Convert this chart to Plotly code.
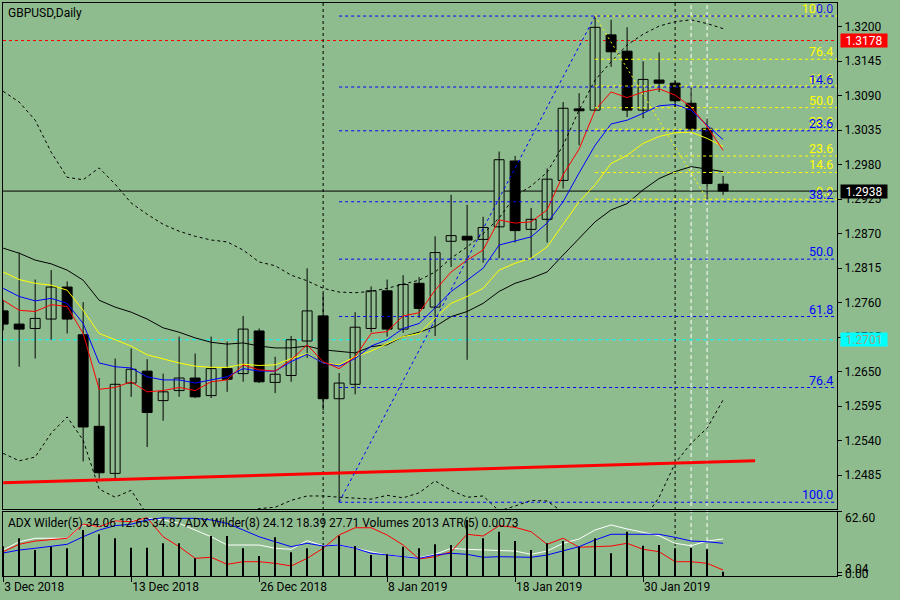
import numpy as np
import plotly.graph_objects as go

# ---- data ----
dates = ["2018-12-03", "2018-12-04", "2018-12-05", "2018-12-06", "2018-12-07",
         "2018-12-10", "2018-12-11", "2018-12-12", "2018-12-13", "2018-12-14",
         "2018-12-17", "2018-12-18", "2018-12-19", "2018-12-20", "2018-12-21",
         "2018-12-24", "2018-12-26", "2018-12-27", "2018-12-28", "2018-12-31",
         "2019-01-02", "2019-01-03", "2019-01-04", "2019-01-07", "2019-01-08",
         "2019-01-09", "2019-01-10", "2019-01-11", "2019-01-14", "2019-01-15",
         "2019-01-16", "2019-01-17", "2019-01-18", "2019-01-21", "2019-01-22",
         "2019-01-23", "2019-01-24", "2019-01-25", "2019-01-28", "2019-01-29",
         "2019-01-30", "2019-01-31", "2019-02-01", "2019-02-04", "2019-02-05",
         "2019-02-06"]

open_ = [1.2747, 1.2726, 1.2719, 1.2734, 1.2785, 1.2709, 1.2563, 1.2488, 1.2632, 1.2651,
         1.2604, 1.2620, 1.2640, 1.2612, 1.2655, 1.2647, 1.2715, 1.2633, 1.2644, 1.2699,
         1.2739, 1.2607, 1.2630, 1.2719, 1.2779, 1.2718, 1.2791, 1.2753, 1.2858, 1.2866,
         1.2861, 1.2881, 1.2986, 1.2877, 1.2893, 1.2955, 1.3069, 1.3067, 1.3187, 1.3161,
         1.3067, 1.3115, 1.3110, 1.3078, 1.3038, 1.2949]
high = [1.2764, 1.2840, 1.2797, 1.2812, 1.2794, 1.2761, 1.2640, 1.2671, 1.2687, 1.2670,
        1.2647, 1.2706, 1.2679, 1.2706, 1.2698, 1.2739, 1.2719, 1.2674, 1.2707, 1.2815,
        1.2775, 1.2648, 1.2745, 1.2786, 1.2797, 1.2804, 1.2801, 1.2866, 1.2932, 1.2916,
        1.2897, 1.3001, 1.2994, 1.2911, 1.2974, 1.3080, 1.3094, 1.3217, 1.3211, 1.3199,
        1.3145, 1.3159, 1.3115, 1.3103, 1.3054, 1.2962]
low = [1.2716, 1.2658, 1.2671, 1.2701, 1.2711, 1.2507, 1.2480, 1.2477, 1.2610, 1.2530,
       1.2572, 1.2610, 1.2608, 1.2608, 1.2618, 1.2634, 1.2632, 1.2616, 1.2634, 1.2672,
       1.2589, 1.2442, 1.2614, 1.2713, 1.2706, 1.2712, 1.2736, 1.2707, 1.2817, 1.2669,
       1.2824, 1.2831, 1.2856, 1.2831, 1.2856, 1.2942, 1.3011, 1.3066, 1.3136, 1.3056,
       1.3054, 1.3096, 1.3070, 1.3032, 1.2925, 1.2932]
close = [1.2726, 1.2718, 1.2735, 1.2785, 1.2734, 1.2562, 1.2489, 1.2630, 1.2654, 1.2585,
         1.2618, 1.2640, 1.2610, 1.2655, 1.2638, 1.2718, 1.2634, 1.2646, 1.2701, 1.2747,
         1.2607, 1.2632, 1.2721, 1.2779, 1.2718, 1.2789, 1.2751, 1.2840, 1.2867, 1.2860,
         1.2880, 1.2988, 1.2875, 1.2893, 1.2957, 1.3070, 1.3066, 1.3199, 1.3160, 1.3067,
         1.3116, 1.3110, 1.3082, 1.3037, 1.2950, 1.2938]

ma_red = [1.2764, 1.2748, 1.2746, 1.2757, 1.2754, 1.2711, 1.2622, 1.2625, 1.2634, 1.2618,
          1.2620, 1.2625, 1.2620, 1.2634, 1.2637, 1.2661, 1.2653, 1.2651, 1.2669, 1.2693,
          1.2666, 1.2655, 1.2674, 1.2711, 1.2714, 1.2739, 1.2744, 1.2780, 1.2809, 1.2828,
          1.2844, 1.2892, 1.2887, 1.2889, 1.2908, 1.2964, 1.3005, 1.3067, 1.3096, 1.3087,
          1.3096, 1.3101, 1.3091, 1.3072, 1.3041, 1.3003]
ma_blue = [1.2783, 1.2770, 1.2763, 1.2767, 1.2759, 1.2727, 1.2664, 1.2658, 1.2656, 1.2642,
           1.2637, 1.2637, 1.2632, 1.2637, 1.2642, 1.2655, 1.2651, 1.2651, 1.2666, 1.2678,
           1.2664, 1.2659, 1.2671, 1.2691, 1.2701, 1.2719, 1.2727, 1.2752, 1.2778, 1.2796,
           1.2815, 1.2852, 1.2858, 1.2865, 1.2887, 1.2921, 1.2967, 1.3011, 1.3045, 1.3051,
           1.3062, 1.3074, 1.3076, 1.3067, 1.3043, 1.3020]
ma_yellow = [1.2809, 1.2797, 1.2791, 1.2788, 1.2780, 1.2748, 1.2711, 1.2701, 1.2691, 1.2677,
             1.2670, 1.2664, 1.2659, 1.2657, 1.2657, 1.2662, 1.2660, 1.2661, 1.2671, 1.2679,
             1.2664, 1.2661, 1.2674, 1.2683, 1.2695, 1.2706, 1.2711, 1.2736, 1.2759, 1.2770,
             1.2783, 1.2812, 1.2823, 1.2831, 1.2849, 1.2884, 1.2921, 1.2948, 1.2982, 1.2995,
             1.3014, 1.3025, 1.3031, 1.3032, 1.3022, 1.3009]
ma_black = [1.2847, 1.2839, 1.2828, 1.2822, 1.2812, 1.2796, 1.2764, 1.2753, 1.2745, 1.2734,
            1.2720, 1.2713, 1.2704, 1.2697, 1.2694, 1.2696, 1.2691, 1.2688, 1.2688, 1.2691,
            1.2685, 1.2682, 1.2680, 1.2690, 1.2693, 1.2706, 1.2713, 1.2722, 1.2738, 1.2746,
            1.2759, 1.2778, 1.2791, 1.2799, 1.2809, 1.2836, 1.2863, 1.2889, 1.2908, 1.2918,
            1.2940, 1.2958, 1.2969, 1.2977, 1.2973, 1.2969]
bb_upper = [1.3097, 1.3080, 1.3051, 1.3000, 1.2960, 1.2956, 1.2975, 1.2949, 1.2919, 1.2901,
            1.2885, 1.2874, 1.2866, 1.2860, 1.2857, 1.2844, 1.2825, 1.2819, 1.2804, 1.2795,
            1.2783, 1.2777, 1.2776, 1.2778, 1.2783, 1.2790, 1.2796, 1.2809, 1.2831, 1.2849,
            1.2870, 1.2895, 1.2930, 1.2946, 1.2968, 1.3011, 1.3067, 1.3115, 1.3144, 1.3171,
            1.3188, 1.3201, 1.3208, 1.3211, 1.3205, 1.3197]
bb_lower = [1.2520, 1.2508, 1.2514, 1.2552, 1.2578, 1.2541, 1.2463, 1.2450, 1.2461, 1.2422,
            1.2406, 1.2398, 1.2398, 1.2401, 1.2411, 1.2422, 1.2432, 1.2434, 1.2445, 1.2452,
            1.2452, 1.2450, 1.2449, 1.2447, 1.2453, 1.2449, 1.2457, 1.2476, 1.2461, 1.2450,
            1.2452, 1.2428, 1.2436, 1.2445, 1.2444, 1.2426, 1.2413, 1.2400, 1.2394, 1.2397,
            1.2413, 1.2450, 1.2504, 1.2536, 1.2560, 1.2605]

volume = [14000, 17680, 12190, 13740, 12990, 21570, 19560, 17680, 13270, 13270,
          15340, 15340, 8300, 18760, 18760, 12990, 9380, 18150, 11120, 12990,
          14070, 18900, 14070, 9850, 10180, 13740, 12990, 14870, 14540, 26260,
          17680, 20780, 16420, 12190, 15340, 16420, 13740, 17680, 10650, 20780,
          14210, 14540, 12990, 13270, 12520, 2013]
adx_blue = [22.5, 25.4, 27.1, 28.7, 31.0, 38.4, 45.0, 49.2, 50.6, 54.8,
            57.0, 56.4, 56.4, 54.8, 51.5, 45.0, 38.4, 33.5, 28.7, 32.0,
            29.3, 30.3, 27.1, 22.2, 20.5, 18.9, 17.3, 20.5, 22.2, 21.2,
            18.3, 18.9, 18.9, 18.3, 20.5, 24.4, 28.7, 35.2, 40.8, 40.8,
            40.8, 40.8, 37.8, 34.2, 33.5, 32.0]
adx_white = [25.4, 33.5, 36.9, 36.9, 36.9, 49.9, 48.2, 53.1, 53.8, 56.4,
             54.8, 51.5, 45.3, 38.4, 30.3, 30.3, 30.3, 27.1, 26.1, 34.5,
             29.6, 30.3, 27.1, 23.8, 20.5, 18.9, 17.9, 21.2, 27.1, 26.1,
             25.4, 24.4, 24.4, 21.2, 24.4, 32.0, 36.2, 45.0, 49.9, 46.0,
             42.7, 39.4, 32.0, 29.6, 34.2, 36.2]
adx_red = [23.8, 31.0, 34.2, 35.2, 36.9, 50.6, 48.2, 53.8, 53.1, 57.0,
           38.4, 28.7, 17.3, 18.3, 11.4, 14.0, 14.0, 12.4, 9.8, 17.3,
           27.1, 40.1, 47.2, 47.2, 40.1, 30.3, 16.6, 18.9, 23.8, 40.8,
           39.1, 49.2, 47.6, 43.3, 31.0, 36.9, 28.1, 28.7, 29.3, 32.0,
           26.1, 23.8, 14.0, 14.0, 12.4, 5.9]

price_ticks = [1.3200, 1.3145, 1.3090, 1.3035, 1.2980, 1.2925, 1.2870,
               1.2815, 1.2760, 1.2705, 1.2650, 1.2595, 1.2540, 1.2485]
date_ticks = ["2018-12-03", "2018-12-13", "2018-12-26", "2019-01-08", "2019-01-18", "2019-01-30"]
fib_levels = [0.0, 14.6, 23.6, 38.2, 50.0, 61.8, 76.4, 100.0]
alert_level = 1.3178
cyan_level = 1.2701
trend_x = ["2018-12-03", "2019-02-08"]
trend_y = [1.2473, 1.2508]
marked_days = ["2019-02-04", "2019-02-05"]
indicator_text = ("ADX Wilder(5) 34.06 12.65 34.87 ADX Wilder(8) 24.12 18.39 27.71 "
                  "Volumes 2013 ATR(5) 0.0073")

BG = "#8fbc8f"
FONT = "Roboto"
n = len(close)
idx = list(range(n))
pos = {d: i for i, d in enumerate(dates)}


def date_pos(d):
    # bars past the last one (trend line end) are counted in trading days
    if d in pos:
        return pos[d]
    return n - 1 + int(np.busday_count(dates[-1], d))


fig = go.Figure()

# candles
wx, wy = [], []
for i in idx:
    wx += [i, i, None]
    wy += [low[i], high[i], None]
fig.add_trace(go.Scatter(x=wx, y=wy, mode="lines", line=dict(color="black", width=1), hoverinfo="skip"))
bull = [i for i in idx if close[i] >= open_[i]]
bear = [i for i in idx if close[i] < open_[i]]
fig.add_trace(go.Bar(x=bull, base=[open_[i] for i in bull], y=[close[i] - open_[i] for i in bull],
                     width=0.62, marker=dict(color=BG, line=dict(color="black", width=1))))
fig.add_trace(go.Bar(x=bear, base=[close[i] for i in bear], y=[open_[i] - close[i] for i in bear],
                     width=0.62, marker=dict(color="black", line=dict(color="black", width=1))))

# envelopes + moving averages
for band in (bb_upper, bb_lower):
    fig.add_trace(go.Scatter(x=idx, y=band, mode="lines", line=dict(color="black", width=1, dash="3px,3px")))
for ma, col in ((ma_black, "black"), (ma_yellow, "#ffff00"), (ma_blue, "#0000ff"), (ma_red, "#ff0000")):
    fig.add_trace(go.Scatter(x=idx, y=ma, mode="lines", line=dict(color=col, width=1)))

# red trend line
fig.add_trace(go.Scatter(x=[date_pos(d) for d in trend_x], y=trend_y, mode="lines",
                         line=dict(color="#ff0000", width=3)))

# fibonacci retracements
hi_i = high.index(max(high))
lo_i = low.index(min(low))
lo2_i = hi_i + low[hi_i:].index(min(low[hi_i:]))
top, bot, bot2 = high[hi_i], low[lo_i], low[lo2_i]
annotations = []
# yellow: from the top down to the latest low
for lv in fib_levels:
    p = bot2 + lv / 100 * (top - bot2)
    fig.add_trace(go.Scatter(x=[hi_i, n + 20], y=[p, p], mode="lines",
                             line=dict(color="#ffff00", width=1, dash="3px,3px")))
    annotations.append(dict(x=1, y=p, xref="paper", yref="y", text=f"{lv:.1f}", showarrow=False,
                            xanchor="right", yanchor="bottom", xshift=-2, yshift=-2,
                            font=dict(color="#ffff00", size=12.5, family=FONT)))
fig.add_trace(go.Scatter(x=[hi_i, lo2_i], y=[top, bot2], mode="lines",
                         line=dict(color="#ffff00", width=1, dash="2px,3px")))
# blue: from the flash-crash low to the top
for lv in fib_levels:
    p = top - lv / 100 * (top - bot)
    fig.add_trace(go.Scatter(x=[lo_i, n + 20], y=[p, p], mode="lines",
                             line=dict(color="#0000ff", width=1, dash="3px,3px")))
    annotations.append(dict(x=1, y=p, xref="paper", yref="y", text=f"{lv:.1f}", showarrow=False,
                            xanchor="right", yanchor="bottom", xshift=-2, yshift=-2,
                            font=dict(color="#0000ff", size=12.5, family=FONT)))
fig.add_trace(go.Scatter(x=[lo_i, hi_i], y=[bot, top], mode="lines",
                         line=dict(color="#0000ff", width=1, dash="3px,3px")))

# indicator window
fig.add_trace(go.Bar(x=idx, y=volume, width=0.1, marker=dict(color="black", line=dict(width=0)),
                     xaxis="x2", yaxis="y3"))
for vals, col in ((adx_white, "#ffffff"), (adx_red, "#ff0000"), (adx_blue, "#0000ff")):
    fig.add_trace(go.Scatter(x=idx, y=vals, mode="lines", line=dict(color=col, width=1),
                             xaxis="x2", yaxis="y2"))

# horizontal and vertical lines
shapes = []
for lvl, col, dash in ((alert_level, "#ff0000", "3px,3px"), (cyan_level, "#00ffff", "4px,3px"),
                       (close[-1], "black", "solid")):
    shapes.append(dict(type="line", xref="paper", x0=0, x1=1, yref="y", y0=lvl, y1=lvl,
                       line=dict(color=col, width=1, dash=dash), layer="below"))
separators = [i for i in idx[1:] if dates[i][:7] != dates[i - 1][:7]]
for i in separators:
    shapes.append(dict(type="line", xref="x", x0=i, x1=i, yref="paper", y0=0, y1=1,
                       line=dict(color="black", width=1, dash="3px,3px"), layer="below"))
for d in marked_days:
    shapes.append(dict(type="line", xref="x", x0=pos[d], x1=pos[d], yref="paper", y0=0, y1=1,
                       line=dict(color="#ffffff", width=1, dash="4px,3px"), layer="below"))

# price boxes on the right scale
for lvl, bg, fc in ((alert_level, "#ff0000", "#ffffff"), (cyan_level, "#00ffff", "#a09f80"),
                    (close[-1], "black", "#ffffff")):
    annotations.append(dict(x=1, y=lvl, xref="paper", yref="y", text=f"{lvl:.4f}", showarrow=False,
                            xanchor="left", yanchor="middle", xshift=3, width=46, height=13,
                            bgcolor=bg, borderpad=0, font=dict(color=fc, size=12, family=FONT)))

annotations.append(dict(x=0, y=1, xref="paper", yref="paper", text="GBPUSD,Daily", showarrow=False,
                        xanchor="left", yanchor="top", xshift=3, yshift=-1,
                        font=dict(size=12, family=FONT, color="black")))
annotations.append(dict(x=0, y=0.1117, xref="paper", yref="paper", text=indicator_text, showarrow=False,
                        xanchor="left", yanchor="top", xshift=3, yshift=-2,
                        font=dict(size=12, family=FONT, color="black")))
for val, txt, dy in ((62.6, "62.60", -6), (3.04, "3.04", 4), (0, "0.00", 2)):
    annotations.append(dict(x=1, y=val, xref="paper", yref="y2", text=txt, showarrow=False,
                            xanchor="left", yanchor="middle", xshift=6, yshift=dy,
                            font=dict(size=12, family=FONT, color="black")))

axis_common = dict(showgrid=False, zeroline=False, showline=True, linecolor="black", linewidth=1,
                   mirror=True, tickcolor="black", tickfont=dict(family=FONT, size=12, color="black"))
date_labels = []
for d in date_ticks:
    y, m, dd = d.split("-")
    mon = ["Jan", "Feb", "Mar", "Apr", "May", "Jun", "Jul", "Aug", "Sep", "Oct", "Nov", "Dec"][int(m) - 1]
    date_labels.append(f"{int(dd)} {mon} {y}")

fig.update_layout(
    width=900, height=600,
    margin=dict(l=3, r=63, t=3, b=24),
    paper_bgcolor=BG, plot_bgcolor=BG,
    showlegend=False, barmode="overlay", hovermode=False,
    font=dict(family=FONT, size=12, color="black"),
    xaxis=dict(domain=[0, 1], range=[-0.01, 52.12], anchor="y", showticklabels=False, ticks="",
               **axis_common),
    yaxis=dict(domain=[0.1169, 1], range=[1.24312, 1.32378], side="right", anchor="x",
               tickvals=price_ticks, ticktext=[f"{v:.4f}" for v in price_ticks],
               ticks="outside", ticklen=4, **axis_common),
    xaxis2=dict(domain=[0, 1], matches="x", anchor="y2", tickvals=[pos[d] for d in date_ticks],
                ticktext=date_labels, ticks="outside", ticklen=5, ticklabelposition="outside right",
                **axis_common),
    yaxis2=dict(domain=[0, 0.1117], range=[0, 62.6], side="right", anchor="x2",
                tickvals=[0, 3.04, 62.6], ticks="outside", ticklen=4, showticklabels=False,
                **axis_common),
    yaxis3=dict(overlaying="y2", anchor="x2", range=[0, 30000], visible=False),
    shapes=shapes,
    annotations=annotations,
)

fig.write_html("out.html", config={"displayModeBar": False},
               post_script="document.body.style.margin='0';document.body.style.overflow='hidden';")
